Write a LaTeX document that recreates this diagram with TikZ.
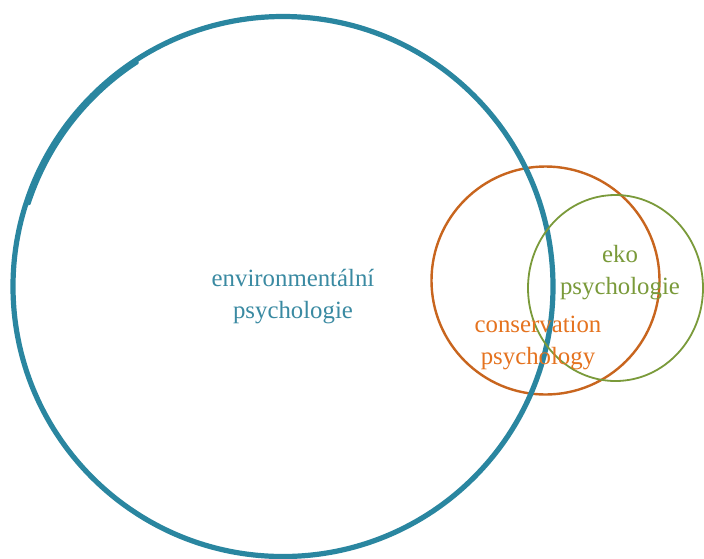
\documentclass[tikz,border=0pt]{standalone}
\usepackage{fontspec}
\setmainfont{Liberation Serif}
\usetikzlibrary{shapes.geometric}
\definecolor{envblue}{HTML}{2A86A0}
\definecolor{envtext}{HTML}{3A8AA2}
\definecolor{consorange}{HTML}{C8651E}
\definecolor{constext}{HTML}{E5731F}
\definecolor{ekogreen}{HTML}{7A9A3A}
\tikzset{
  ring/.style={draw, circle, inner sep=0pt},
  lbl/.style={font=\fontsize{24.8}{32}\selectfont, align=center, inner sep=0pt}
}
\begin{document}
\begin{tikzpicture}[x=1pt,y=-1pt]
\useasboundingbox (0,0) rectangle (704,558);
\fill[white] (0,0) rectangle (704,558);
\node[ring, draw=consorange, line width=2.4pt, minimum size=228pt] (cons) at (545.5,280.5) {};
\node[ring, draw=envblue, line width=5.2pt, minimum size=540pt] (env) at (283,286.5) {};
\draw[envblue, line width=3pt, line cap=round] (env.center) ++(237:267) arc[start angle=237, end angle=198, radius=267];
\node[draw=ekogreen, line width=1.8pt, ellipse, inner sep=0pt, minimum width=175pt, minimum height=186pt] (eko) at (615.5,288) {};
\node[lbl, text=envtext] (envl) at (293,297) {environmentální\\psychologie};
\node[lbl, text=ekogreen] (ekol) at (620,273) {eko\\psychologie};
\node[lbl, text=constext] (consl) at (538,343) {conservation\\psychology};
\end{tikzpicture}
\end{document}
